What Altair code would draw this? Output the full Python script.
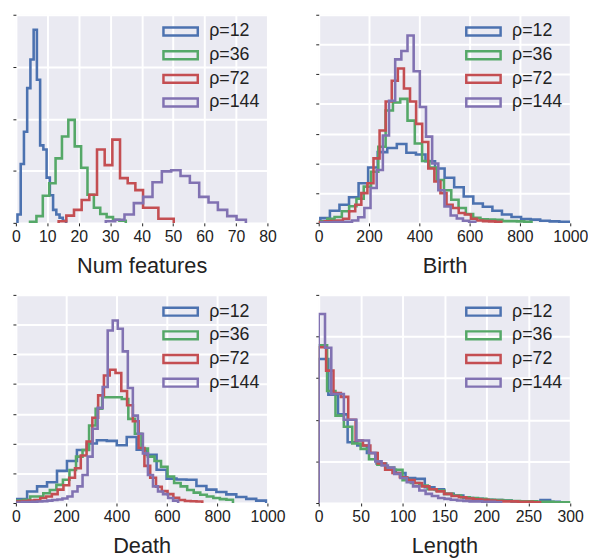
import altair as alt
import pandas as pd

FONT = "Liberation Sans"
SERIES = ["ρ=12", "ρ=36", "ρ=72", "ρ=144"]
COLORS = ["#4C72B0", "#55A868", "#C44E52", "#8172B2"]

# ---- Num features: bin start / bin width per series, heights per bin
NF_START = [0.5, 4.5, 13.6, 28.6]
NF_WIDTH = [1.03, 2.03, 2.44, 2.97]
NF_12 = [0.16, 1.13, 1.75, 2.59, 3.14, 3.71, 2.75, 1.49, 1.41, 0.87, 0.53, 0.25, 0.16, 0.10, 0.04]
NF_36 = [0.02, 0.13, 0.52, 0.76, 1.24, 1.66, 1.98, 1.47, 1.06, 0.54, 0.29, 0.17, 0.11, 0.06, 0.04]
NF_72 = [0.03, 0.14, 0.25, 0.44, 0.54, 1.41, 1.11, 1.60, 0.86, 0.76, 0.63, 0.29, 0.29, 0.08, 0.08]
NF_144 = [0.03, 0.06, 0.16, 0.38, 0.50, 0.78, 0.99, 1.01, 0.90, 0.77, 0.50, 0.39, 0.25, 0.13, 0.06]

# ---- Birth
B_START = [6.5, 5, 0, 10]
B_WIDTH = [38.0, 29.0, 24.2, 24.5]
B_12 = [0.16, 0.41, 0.61, 0.86, 1.33, 1.86, 2.38, 2.52, 2.65, 2.36, 2.30, 2.07, 1.83, 1.52, 1.20,
        0.89, 0.65, 0.54, 0.41, 0.28, 0.20, 0.13, 0.11, 0.07, 0.05, 0.04]
B_36 = [0.05, 0.14, 0.20, 0.39, 0.56, 0.81, 1.22, 1.72, 2.56, 3.78, 4.05, 4.17, 3.44, 2.67, 2.08,
        1.86, 1.44, 1.10, 0.78, 0.50, 0.30, 0.17, 0.12, 0.11, 0.10, 0.06, 0.06, 0.05, 0.04]
B_72 = [0.03, 0.05, 0.06, 0.08, 0.14, 0.39, 0.61, 1.00, 1.33, 2.17, 3.11, 4.08, 4.78, 5.19, 4.52,
        4.08, 3.33, 2.72, 1.83, 1.39, 1.00, 0.61, 0.50, 0.33, 0.28, 0.14, 0.08, 0.06, 0.05, 0.04]
B_144 = [0.02, 0.02, 0.03, 0.03, 0.04, 0.08, 0.19, 0.50, 1.17, 1.78, 2.94, 4.11, 5.50, 5.78, 6.30,
         5.10, 3.90, 2.90, 2.00, 1.10, 0.55, 0.25, 0.15, 0.07, 0.04]

# ---- Death
D_START = [5, 5, 5, 5]
D_WIDTH = [39.6, 26.0, 23.0, 20.0]
D_12 = [0.13, 0.39, 0.56, 0.70, 1.08, 1.41, 1.78, 2.00, 2.11, 2.09, 1.94, 2.22, 1.79, 1.62, 1.12,
        0.82, 0.79, 0.78, 0.57, 0.45, 0.37, 0.29, 0.20, 0.14, 0.08]
D_36 = [0.08, 0.11, 0.22, 0.22, 0.33, 0.44, 0.61, 0.78, 1.11, 1.56, 1.78, 2.61, 3.17, 3.56, 3.56,
        3.56, 3.50, 2.83, 2.33, 1.83, 1.56, 1.41, 1.22, 0.89, 0.67, 0.56, 0.44, 0.35, 0.28, 0.22,
        0.17, 0.13, 0.11]
D_72 = [0.05, 0.07, 0.08, 0.10, 0.17, 0.22, 0.30, 0.45, 0.60, 0.85, 1.17, 1.60, 2.07, 2.87, 3.62,
        4.29, 4.48, 4.37, 3.77, 3.29, 2.75, 1.85, 1.25, 0.85, 0.55, 0.40, 0.30, 0.18, 0.10, 0.07,
        0.06, 0.05]
D_144 = [0.02, 0.03, 0.03, 0.04, 0.05, 0.06, 0.08, 0.10, 0.12, 0.15, 0.22, 0.39, 0.56, 0.94, 1.56,
         2.50, 3.20, 3.90, 5.80, 6.14, 5.86, 5.10, 3.87, 2.94, 2.33, 1.67, 0.94, 0.56, 0.39, 0.30,
         0.17, 0.08]

# ---- Length
L_START = [0, 0, 0, 0]
L_WIDTH = [11.5, 10.0, 8.8, 7.5]
L_12 = [3.46, 2.60, 2.13, 1.46, 1.38, 1.20, 0.95, 0.80, 0.72, 0.60, 0.58, 0.38, 0.33, 0.22, 0.18,
        0.12, 0.10, 0.08, 0.07, 0.06, 0.04, 0.04, 0.03, 0.07, 0.03]
L_36 = [3.79, 2.69, 2.10, 1.83, 1.43, 1.30, 1.05, 0.92, 0.85, 0.80, 0.55, 0.48, 0.42, 0.33, 0.30,
        0.22, 0.18, 0.14, 0.12, 0.10, 0.08, 0.07, 0.06, 0.05, 0.04, 0.04, 0.03, 0.03, 0.02, 0.02]
L_72 = [3.74, 3.18, 2.64, 2.55, 2.00, 1.50, 1.38, 1.20, 0.95, 0.80, 0.72, 0.62, 0.55, 0.48, 0.40,
        0.33, 0.28, 0.22, 0.17, 0.14, 0.11, 0.09, 0.08, 0.06, 0.05, 0.04, 0.04, 0.03, 0.03, 0.02]
L_144 = [4.54, 3.73, 2.62, 2.62, 2.00, 2.00, 1.50, 1.50, 1.20, 1.00, 0.90, 0.85, 0.70, 0.60, 0.50,
         0.40, 0.30, 0.22, 0.17, 0.12, 0.10, 0.08, 0.06, 0.05, 0.04, 0.04, 0.03, 0.03, 0.02]

# axis ticks
XT_NF = [0, 10, 20, 30, 40, 50, 60, 70, 80]
XT_BD = [0, 200, 400, 600, 800, 1000]
XT_LEN = [0, 50, 100, 150, 200, 250, 300]
YT_NF = [0, 1, 2, 3, 4]
YT_BD = [0, 1, 2, 3, 4, 5, 6, 7]
YT_LEN = [0, 1, 2, 3, 4, 5]


def step_rows(start, width, heights, name, order):
    edges = [start + width * k for k in range(len(heights) + 1)]
    rows = [{"x": edges[0], "y": 0.0, "series": name, "i": 0, "s": order}]
    for k, h in enumerate(heights):
        rows.append({"x": edges[k], "y": h, "series": name, "i": k + 1, "s": order})
    rows.append({"x": edges[-1], "y": 0.0, "series": name, "i": len(heights) + 1, "s": order})
    return rows


def panel_df(starts, widths, hists):
    rows = []
    for j, (s, w, h) in enumerate(zip(starts, widths, hists)):
        rows += step_rows(s, w, h, SERIES[j], j)
    return pd.DataFrame(rows)


# wide hollow rectangle legend symbol (35 x 8 px at symbolSize 144)
LEGEND_SYMBOL = "M-2.9,-0.67L2.9,-0.67L2.9,0.67L-2.9,0.67Z"


def panel(df, xticks, yticks, title):
    legend = alt.Legend(
        title=None, orient="top-right", offset=8, padding=0,
        symbolType=LEGEND_SYMBOL, symbolSize=144,
        symbolStrokeWidth=2.5, symbolFillColor="transparent", symbolOpacity=1,
        labelFontSize=18, labelFont=FONT, labelColor="#222", labelOffset=20,
        rowPadding=4,
    )
    return alt.Chart(df).mark_line(interpolate="step-after", strokeWidth=2.6, clip=True).encode(
        x=alt.X("x:Q", scale=alt.Scale(domain=[xticks[0], xticks[-1]], nice=False, zero=False),
                axis=alt.Axis(values=xticks, format="d", title=title, labelFlush=False)),
        y=alt.Y("y:Q", scale=alt.Scale(domain=[yticks[0], yticks[-1]], nice=False),
                axis=alt.Axis(values=yticks, labels=False, title=None)),
        color=alt.Color("series:N", scale=alt.Scale(domain=SERIES, range=COLORS), legend=legend),
        order=alt.Order("i:Q"),
    ).properties(width=255, height=211)


p1 = panel(panel_df(NF_START, NF_WIDTH, [NF_12, NF_36, NF_72, NF_144]), XT_NF, YT_NF, "Num features")
p2 = panel(panel_df(B_START, B_WIDTH, [B_12, B_36, B_72, B_144]), XT_BD, YT_BD, "Birth")
p3 = panel(panel_df(D_START, D_WIDTH, [D_12, D_36, D_72, D_144]), XT_BD, YT_BD, "Death")
p4 = panel(panel_df(L_START, L_WIDTH, [L_12, L_36, L_72, L_144]), XT_LEN, YT_LEN, "Length")

chart = alt.concat(p1, p2, p3, p4, columns=2, spacing={"row": 73, "column": 52}, bounds="flush").resolve_scale(
    color="independent"
).configure_view(
    fill="#EAEAF2", stroke=None
).configure_axis(
    gridColor="white", gridWidth=2, domain=False,
    labelFont=FONT, labelFontSize=16, labelColor="#222", labelPadding=3,
    titleFont=FONT, titleFontSize=22, titleFontWeight="normal", titleColor="#222", titlePadding=11,
    tickColor="#222", tickSize=3, tickWidth=1,
).properties(
    padding={"left": 3, "top": 2, "right": 0, "bottom": 5}
)

chart.save("out.html", embed_options={"renderer": "svg", "actions": False})
